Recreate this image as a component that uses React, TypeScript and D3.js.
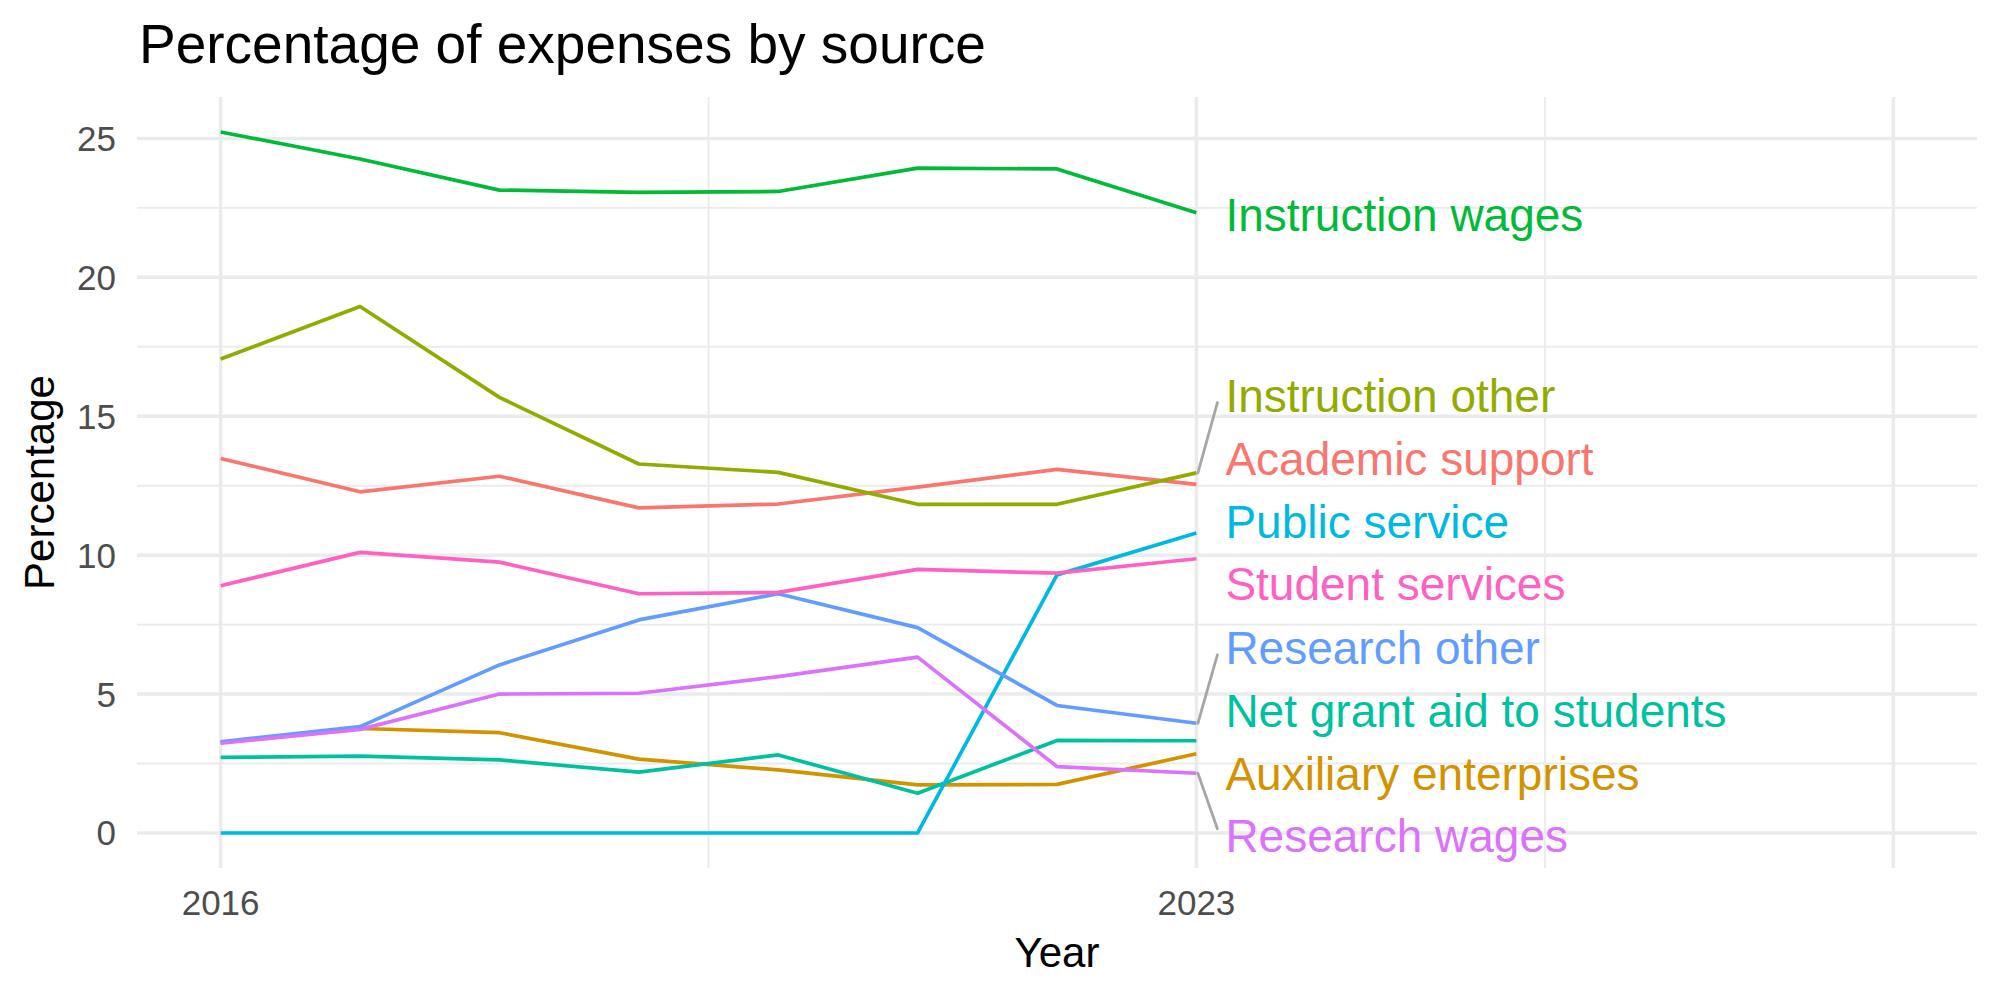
import React, {useEffect, useRef} from "react";
import * as d3 from "d3";

const years = [2016, 2017, 2018, 2019, 2020, 2021, 2022, 2023];

const seriesNames = [
  "Academic support",
  "Auxiliary enterprises",
  "Instruction other",
  "Instruction wages",
  "Net grant aid to students",
  "Public service",
  "Research other",
  "Research wages",
  "Student services",
];

const academicSupport = [13.48, 12.28, 12.84, 11.7, 11.84, 12.45, 13.09, 12.55];
const auxiliaryEnterprises = [3.25, 3.76, 3.61, 2.66, 2.27, 1.73, 1.75, 2.85];
const instructionOther = [17.06, 18.95, 15.68, 13.28, 12.98, 11.83, 11.83, 12.96];
const instructionWages = [25.23, 24.26, 23.14, 23.06, 23.09, 23.93, 23.9, 22.32];
const netGrantAid = [2.72, 2.77, 2.63, 2.19, 2.81, 1.43, 3.33, 3.32];
const publicService = [0, 0, 0, 0, 0, 0, 9.29, 10.8];
const researchOther = [3.28, 3.83, 6.05, 7.67, 8.61, 7.39, 4.59, 3.95];
const researchWages = [3.23, 3.73, 5.0, 5.03, 5.63, 6.33, 2.39, 2.15];
const studentServices = [8.9, 10.1, 9.75, 8.61, 8.66, 9.49, 9.35, 9.87];

// where the repelled labels ended up (percentage units), same order as seriesNames
const labelY = [13.47, 2.14, 15.74, 22.26, 4.4, 11.21, 6.66, -0.1, 8.97];

const colors = [
  "#F8766D",
  "#D39200",
  "#93AA00",
  "#00BA38",
  "#00C19F",
  "#00B9E3",
  "#619CFF",
  "#DB72FB",
  "#FF61C3",
];

const xBreaks = [2016, 2023, 2028];
const xBreakLabels = ["2016", "2023", ""];
const xMinor = [2019.5, 2025.5];
const yBreaks = [0, 5, 10, 15, 20, 25];
const yMinor = [2.5, 7.5, 12.5, 17.5, 22.5];

function createChart(el: SVGSVGElement) {
  const svg = d3.select(el);
  svg.selectAll("*").remove();

  const W = 2000, H = 1000;
  const panel = {left: 137, right: 1977, top: 97, bottom: 868};
  const font = "'Liberation Sans', Arial, Helvetica, sans-serif";

  svg.attr("width", W).attr("height", H).style("font-family", font);
  svg.append("rect").attr("width", W).attr("height", H).attr("fill", "white");

  const x = d3.scaleLinear().domain([2015.4, 2028.6]).range([panel.left, panel.right]);
  const y = d3.scaleLinear().domain([-1.26, 26.49]).range([panel.bottom, panel.top]);

  const grid = svg.append("g");
  // minor grid
  yMinor.forEach((v) => {
    grid.append("line")
      .attr("x1", panel.left).attr("x2", panel.right)
      .attr("y1", y(v)).attr("y2", y(v))
      .attr("stroke", "#EBEBEB").attr("stroke-width", 1.9);
  });
  xMinor.forEach((v) => {
    grid.append("line")
      .attr("x1", x(v)).attr("x2", x(v))
      .attr("y1", panel.top).attr("y2", panel.bottom)
      .attr("stroke", "#EBEBEB").attr("stroke-width", 1.9);
  });
  // major grid
  yBreaks.forEach((v) => {
    grid.append("line")
      .attr("x1", panel.left).attr("x2", panel.right)
      .attr("y1", y(v)).attr("y2", y(v))
      .attr("stroke", "#EBEBEB").attr("stroke-width", 3.5);
  });
  xBreaks.forEach((v) => {
    grid.append("line")
      .attr("x1", x(v)).attr("x2", x(v))
      .attr("y1", panel.top).attr("y2", panel.bottom)
      .attr("stroke", "#EBEBEB").attr("stroke-width", 3.5);
  });

  // tick labels
  svg.append("g").selectAll("text")
    .data(yBreaks)
    .enter()
    .append("text")
    .attr("x", 116)
    .attr("y", (d) => y(d) + 12.5)
    .attr("text-anchor", "end")
    .attr("font-size", 35)
    .attr("fill", "#4D4D4D")
    .text((d) => String(d));

  svg.append("g").selectAll("text")
    .data(xBreaks)
    .enter()
    .append("text")
    .attr("x", (d) => x(d))
    .attr("y", 915)
    .attr("text-anchor", "middle")
    .attr("font-size", 35)
    .attr("fill", "#4D4D4D")
    .text((d, i) => xBreakLabels[i]);

  const allValues = [
    academicSupport,
    auxiliaryEnterprises,
    instructionOther,
    instructionWages,
    netGrantAid,
    publicService,
    researchOther,
    researchWages,
    studentServices,
  ];

  const line = d3.line<number>()
    .x((d, i) => x(years[i]))
    .y((d) => y(d));

  const lines = svg.append("g");
  allValues.forEach((vals, i) => {
    lines.append("path")
      .attr("d", line(vals) as string)
      .attr("fill", "none")
      .attr("stroke", colors[i])
      .attr("stroke-width", 3.7)
      .attr("stroke-linejoin", "round");
  });

  // labels at the end of each line, with leader segments where they moved
  const lastYear = years[years.length - 1];
  const labels = svg.append("g");
  allValues.forEach((vals, i) => {
    const ly = y(labelY[i]);
    const endY = y(vals[vals.length - 1]);
    const dy = endY - ly;
    if (Math.abs(dy) > 40) {
      labels.append("line")
        .attr("x1", x(lastYear) + 1.5)
        .attr("y1", endY)
        .attr("x2", x(lastYear) + 21)
        .attr("y2", ly + Math.max(-7, Math.min(7, dy)))
        .attr("stroke", "#A6A6A6")
        .attr("stroke-width", 2.8)
        .attr("stroke-linecap", "round");
    }
    labels.append("text")
      .attr("x", x(lastYear) + 29)
      .attr("y", ly + 16)
      .attr("font-size", 46)
      .attr("fill", colors[i])
      .text(seriesNames[i]);
  });

  // titles
  svg.append("text")
    .attr("x", 139)
    .attr("y", 63)
    .attr("font-size", 55)
    .attr("fill", "black")
    .text("Percentage of expenses by source");

  svg.append("text")
    .attr("x", (panel.left + panel.right) / 2)
    .attr("y", 967)
    .attr("text-anchor", "middle")
    .attr("font-size", 42)
    .attr("fill", "black")
    .text("Year");

  svg.append("text")
    .attr("transform", `translate(54, ${(panel.top + panel.bottom) / 2}) rotate(-90)`)
    .attr("text-anchor", "middle")
    .attr("font-size", 42)
    .attr("fill", "black")
    .text("Percentage");
}

export default function App() {
  const ref = useRef<SVGSVGElement>(null);
  useEffect(() => {
    if (ref.current) createChart(ref.current);
  }, []);

  return (
    <div style={{position: "absolute", left: 0, top: 0}}>
      <svg ref={ref}></svg>
    </div>
  );
}
